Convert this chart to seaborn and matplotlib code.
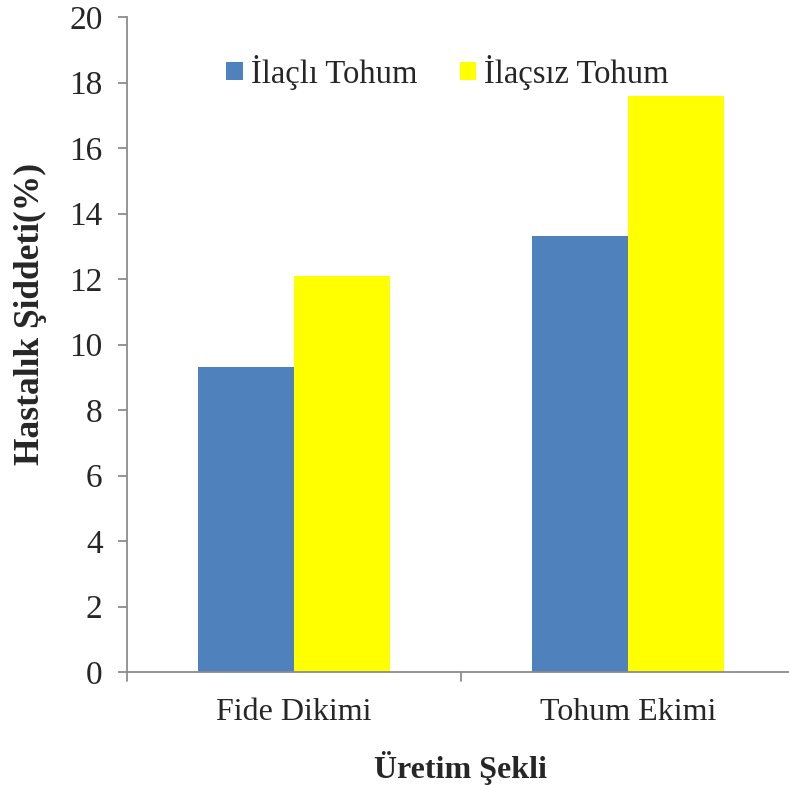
import matplotlib
matplotlib.use("Agg")
import matplotlib.pyplot as plt
import seaborn as sns
import pandas as pd
from matplotlib.patches import Patch

categories = ["Fide Dikimi", "Tohum Ekimi"]
series_names = ["İlaçlı Tohum", "İlaçsız Tohum"]
ilacli = [9.3, 13.3]
ilacsiz = [12.1, 17.6]
colors = ["#4F81BD", "#FFFF00"]
y_ticks = [0, 2, 4, 6, 8, 10, 12, 14, 16, 18, 20]

df = pd.DataFrame({
    "Üretim Şekli": categories * 2,
    "Seri": [series_names[0]] * 2 + [series_names[1]] * 2,
    "Değer": ilacli + ilacsiz,
})

sns.set_theme(style="white")
plt.rcParams["font.family"] = ["Liberation Serif", "DejaVu Serif"]

fig = plt.figure(figsize=(7.89, 7.85), dpi=100)
ax = fig.add_axes([127 / 789, 1 - 672 / 785, 668 / 789, 655 / 785])

sns.barplot(data=df, x="Üretim Şekli", y="Değer", hue="Seri",
            hue_order=series_names, palette=colors, width=0.575,
            gap=0, saturation=1, edgecolor="none", linewidth=0,
            ax=ax, legend=False)

ax.set_xlim(-0.5, 1.5)
ax.set_ylim(0, 20)
ax.set_yticks(y_ticks)
ax.set_yticklabels([str(t) for t in y_ticks], fontsize=24)
ax.set_xticks([0, 1])
ax.set_xticklabels(categories, fontsize=23)
ax.tick_params(axis="x", length=0, pad=19)
ax.tick_params(axis="y", length=6.5, width=1.3, color="#8C8C8C", pad=11, left=True)
# category boundary ticks on the x axis
for xb in [-0.5, 0.5, 1.5]:
    ax.plot([xb, xb], [0, -0.28], color="#8C8C8C", lw=1.3, clip_on=False)

for side in ["top", "right"]:
    ax.spines[side].set_visible(False)
for side in ["left", "bottom"]:
    ax.spines[side].set_color("#8C8C8C")
    ax.spines[side].set_linewidth(1.3)

ax.set_xlabel("Üretim Şekli", fontsize=23, fontweight="bold", labelpad=17)
ax.set_ylabel("Hastalık Şiddeti(%)", fontsize=25.5, fontweight="bold", labelpad=16)
ax.yaxis.label.set_y(0.547)

handles = [Patch(facecolor=c, edgecolor="none") for c in colors]
ax.legend(handles, series_names, ncol=2, frameon=False, fontsize=23.5,
          loc="center", bbox_to_anchor=(0.48, 0.916),
          handlelength=0.5, handleheight=0.5, handletextpad=0.25,
          columnspacing=1.3)

fig.savefig("out.png", dpi=100)
